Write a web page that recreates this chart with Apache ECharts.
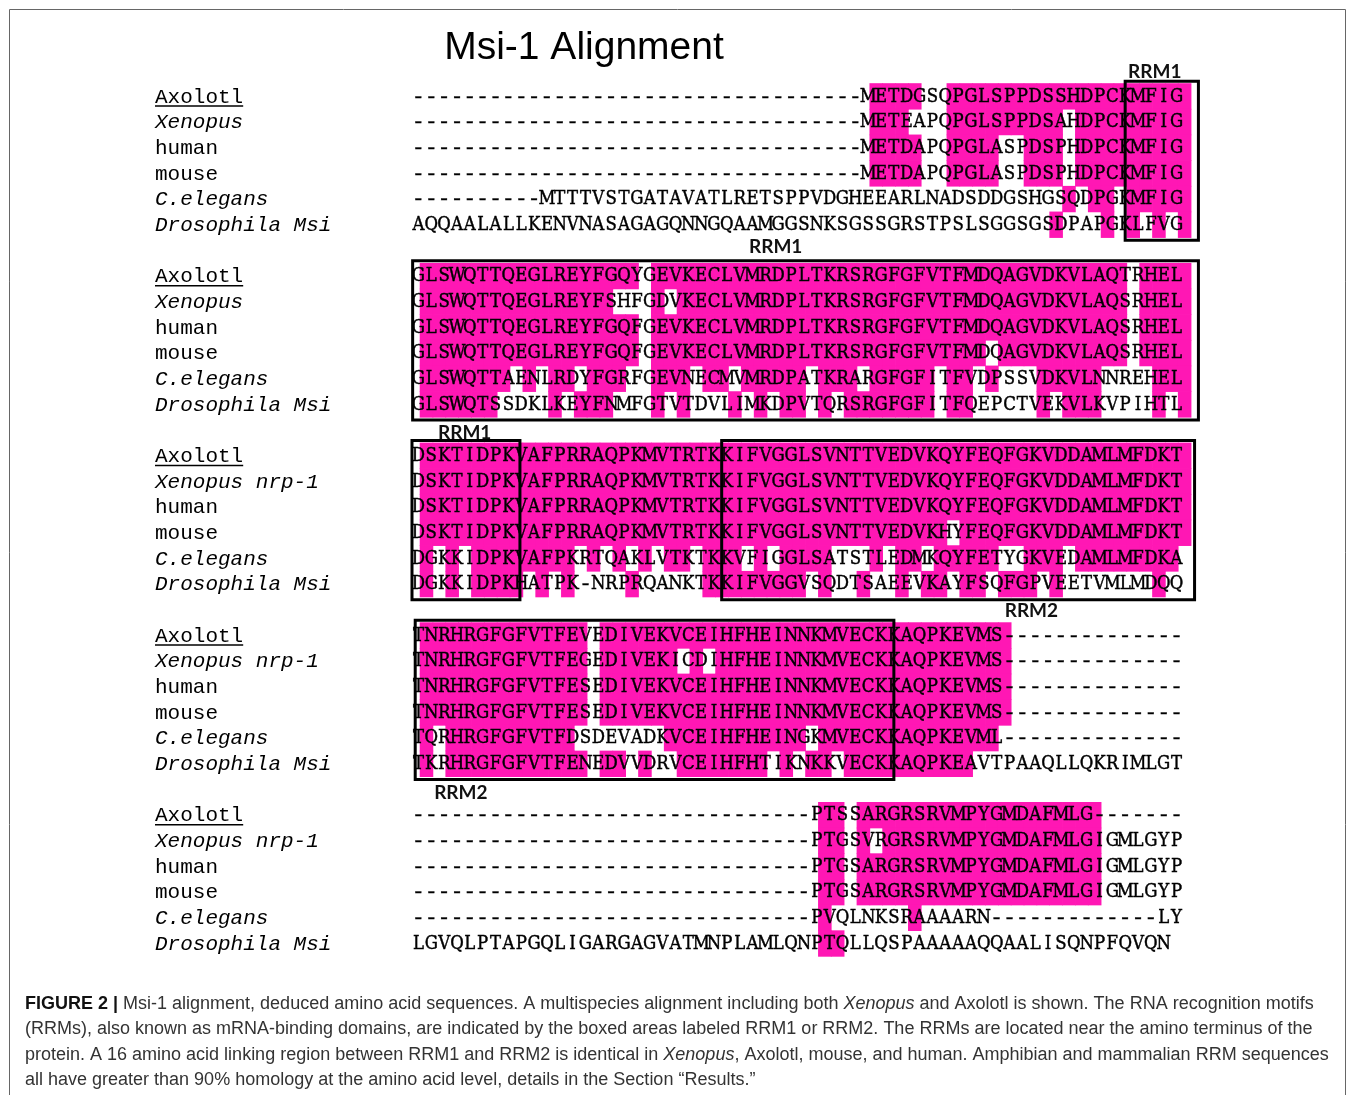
<!DOCTYPE html>
<html><head><meta charset="utf-8">
<script src="https://cdn.jsdelivr.net/npm/echarts@6/dist/echarts.min.js"></script>
<style>html,body{margin:0;padding:0;background:#fff;}#chart{width:1355px;height:1095px;}</style>
</head><body><div id="chart"></div>
<script>
// ---------------- DATA ----------------
const block1Labels = ['Axolotl','Xenopus','human','mouse','C.elegans','Drosophila Msi'];
const block2Labels = ['Axolotl','Xenopus','human','mouse','C.elegans','Drosophila Msi'];
const block3Labels = ['Axolotl','Xenopus nrp-1','human','mouse','C.elegans','Drosophila Msi'];
const block4Labels = ['Axolotl','Xenopus nrp-1','human','mouse','C.elegans','Drosophila Msi'];
const block5Labels = ['Axolotl','Xenopus nrp-1','human','mouse','C.elegans','Drosophila Msi'];

const block1Seqs = [
  '-'.repeat(35) + 'METDGSQPGLSPPDSSHDPCKMFIG',
  '-'.repeat(35) + 'METEAPQPGLSPPDSAHDPCKMFIG',
  '-'.repeat(35) + 'METDAPQPGLASPDSPHDPCKMFIG',
  '-'.repeat(35) + 'METDAPQPGLASPDSPHDPCKMFIG',
  '-'.repeat(10) + 'MTTTVSTGATAVATLRETSPPVDGHEEARLNADSDDGSHGSQDPGKMFIG',
  'AQQAALALLKENVNASAGAGQNNGQAAMGGSNKSGSSGRSTPSLSGGSGSDPAPGKLFVG'
];
const block2Seqs = [
  'GLSWQTTQEGLREYFGQYGEVKECLVMRDPLTKRSRGFGFVTFMDQAGVDKVLAQTRHEL',
  'GLSWQTTQEGLREYFSHFGDVKECLVMRDPLTKRSRGFGFVTFMDQAGVDKVLAQSRHEL',
  'GLSWQTTQEGLREYFGQFGEVKECLVMRDPLTKRSRGFGFVTFMDQAGVDKVLAQSRHEL',
  'GLSWQTTQEGLREYFGQFGEVKECLVMRDPLTKRSRGFGFVTFMDQAGVDKVLAQSRHEL',
  'GLSWQTTAENLRDYFGRFGEVNECMVMRDPATKRARGFGFITFVDPSSVDKVLNNREHEL',
  'GLSWQTSSDKLKEYFNMFGTVTDVLIMKDPVTQRSRGFGFITFQEPCTVEKVLKVPIHTL'
];
const block3Seqs = [
  'DSKTIDPKVAFPRRAQPKMVTRTKKIFVGGLSVNTTVEDVKQYFEQFGKVDDAMLMFDKT',
  'DSKTIDPKVAFPRRAQPKMVTRTKKIFVGGLSVNTTVEDVKQYFEQFGKVDDAMLMFDKT',
  'DSKTIDPKVAFPRRAQPKMVTRTKKIFVGGLSVNTTVEDVKQYFEQFGKVDDAMLMFDKT',
  'DSKTIDPKVAFPRRAQPKMVTRTKKIFVGGLSVNTTVEDVKHYFEQFGKVDDAMLMFDKT',
  'DGKKIDPKVAFPKRTQAKLVTKTKKVFIGGLSATSTLEDMKQYFETYGKVEDAMLMFDKA',
  'DGKKIDPKHATPK-NRPRQANKTKKIFVGGVSQDTSAEEVKAYFSQFGPVEETVMLMDQQ'
];
const block4Seqs = [
  'TNRHRGFGFVTFEVEDIVEKVCEIHFHEINNKMVECKKAQPKEVMS' + '-'.repeat(14),
  'TNRHRGFGFVTFEGEDIVEKICDIHFHEINNKMVECKKAQPKEVMS' + '-'.repeat(14),
  'TNRHRGFGFVTFESEDIVEKVCEIHFHEINNKMVECKKAQPKEVMS' + '-'.repeat(14),
  'TNRHRGFGFVTFESEDIVEKVCEIHFHEINNKMVECKKAQPKEVMS' + '-'.repeat(14),
  'TQRHRGFGFVTFDSDEVADKVCEIHFHEINGKMVECKKAQPKEVML' + '-'.repeat(14),
  'TKRHRGFGFVTFENEDVVDRVCEIHFHTIKNKKVECKKAQPKEAVTPAAQLLQKRIMLGT'
];
const block5Seqs = [
  '-'.repeat(31) + 'PTSSARGRSRVMPYGMDAFMLG' + '-'.repeat(7),
  '-'.repeat(31) + 'PTGSVRGRSRVMPYGMDAFMLGIGMLGYP',
  '-'.repeat(31) + 'PTGSARGRSRVMPYGMDAFMLGIGMLGYP',
  '-'.repeat(31) + 'PTGSARGRSRVMPYGMDAFMLGIGMLGYP',
  '-'.repeat(31) + 'PVQLNKSRAAAARN' + '-'.repeat(13) + 'LY',
  'LGVQLPTAPGQLIGARGAGVATMNPLAMLQNPTQLLQSPAAAAAQQAALISQNPFQVQN'
];

// shading masks ('#' = shaded residue)
const block1Shade = [
  '.......... .......... .......... .....####. .######### ##########',
  '.......... .......... .......... .....###.. .######### .#########',
  '.......... .......... .......... .....####. .####..### .#########',
  '.......... .......... .......... .....####. .####..### .#########',
  '.......... .......... .......... .......... .......... #.##.#####',
  '.......... .......... .......... .......... .........# ...#.#.#.#'
];
const block2Shade = [
  '########## #######.## ########## ########## ########## #####.####',
  '########## #####...#. ########## ########## ########## #####.####',
  '########## #######.## ########## ########## ########## #####.####',
  '########## #######.## ########## ########## ####.##### #####.####',
  '#######.#. ##.###..## #.##.##### .###.##### .##.#...## ###....###',
  '######.... #.###...#. #...#.#.## .#.####### .##.....#. ###....#.#'
];
const block3Shade = [
  '########## ########## ########## ########## ########## ##########',
  '########## ########## ########## ########## ########## ##########',
  '########## ########## ########## ########## ########## ##########',
  '########## ########## ########## ########## #.######## ##########',
  '#.#.###### ##.#.#.#.# #.###.#.## ##...#.##. #####..### .########.',
  '#.#.####.# .#....#... ..######## .#..#..#.# #.##.###.# .......#..'
];
const block4Shade = [
  '########## ###.###### ########## ########## ######.... ..........',
  '########## ###.###### .#.####### ########## ######.... ..........',
  '########## ###.###### ########## ########## ######.... ..........',
  '########## ###.###### ########## ########## ######.... ..........',
  '#.######## ##.......# ########## .######### #####..... ..........',
  '#.######## ###.##.#.. #######.#. ##.####### ###....... ..........'
];
const block5Shade = [
  '.......... .......... .......... .##.###### ########## ###.......',
  '.......... .......... .......... .##.#.#### ########## ###.......',
  '.......... .......... .......... .##.###### ########## ###.......',
  '.......... .......... .......... .##.###### ########## ###.......',
  '.......... .......... .......... .#......#. .......... ..........',
  '.......... .......... .......... .##....... .......... ..........'
];

// RRM boxes: block index, column range (in residue columns)
const rrmBoxBlocks = [0, 1, 2, 2, 3];
const rrmBoxFrom   = [55.5, 0.05, 0.0, 24.1, 0.25];
const rrmBoxTo     = [61.2, 61.2, 8.4, 60.9, 37.5];
// RRM labels: text, column, row position
const rrmLabelText = ['RRM1', 'RRM1', 'RRM1', 'RRM2', 'RRM2'];
const rrmLabelCol  = [57.8, 28.3, 4.1, 48.2, 3.8];
const rrmLabelRow  = [-0.45, 6.38, 13.63, 20.56, 27.65];

const titleText = 'Msi-1 Alignment';
const captionLines = [
  '{b|FIGURE 2 |} Msi-1 alignment, deduced amino acid sequences. A multispecies alignment including both {i|Xenopus} and Axolotl is shown. The RNA recognition motifs',
  '(RRMs), also known as mRNA-binding domains, are indicated by the boxed areas labeled RRM1 or RRM2. The RRMs are located near the amino terminus of the',
  'protein. A 16 amino acid linking region between RRM1 and RRM2 is identical in {i|Xenopus}, Axolotl, mouse, and human. Amphibian and mammalian RRM sequences',
  'all have greater than 90% homology at the amino acid level, details in the Section \u201cResults.\u201d'
];

// ---------------- BUILD ----------------
const blocks = [
  {seqs: block1Seqs, shade: block1Shade, labels: block1Labels},
  {seqs: block2Seqs, shade: block2Shade, labels: block2Labels},
  {seqs: block3Seqs, shade: block3Shade, labels: block3Labels},
  {seqs: block4Seqs, shade: block4Shade, labels: block4Labels},
  {seqs: block5Seqs, shade: block5Shade, labels: block5Labels}
];
const NCOL = 60, STRIDE = 7, NROW = 34;
const letterData = [], shadeData = [], labelData = [];
blocks.forEach((b, bi) => {
  b.seqs.forEach((s, si) => {
    const r = bi * STRIDE + si;
    for (let c = 0; c < s.length; c++) letterData.push([c, r, s[c]]);
    const m = b.shade[si].replace(/ /g, '');
    for (let c = 0; c < m.length; c++) if (m[c] === '#') shadeData.push([c, r]);
    labelData.push([0, r, b.labels[si]]);
  });
});
const boxData = rrmBoxBlocks.map((bi, i) => [rrmBoxFrom[i], bi * STRIDE, rrmBoxTo[i], bi * STRIDE + 6]);
const rrmLabelData = rrmLabelText.map((t, i) => [rrmLabelCol[i], rrmLabelRow[i], t]);

const PINK = '#ff17b4';
const SHIFT = 0.6;
const SEQ_FONT = '18px "DejaVu Serif", "Liberation Serif", serif';
const DASH_FONT = '21px "Liberation Mono", "Courier New", monospace';
const LAB_FONT = '21px "Liberation Mono", "Courier New", monospace';
const LAB_ITAL = 'italic 21px "Liberation Mono", "Courier New", monospace';
const italicNames = ['Xenopus', 'Xenopus nrp-1', 'C.elegans', 'Drosophila Msi'];
const CAP_FAMILY = '"Liberation Sans", Arial, sans-serif';
const CAP_SIZE = 18;

const chart = echarts.init(document.getElementById('chart'), null, {renderer: 'canvas'});
chart.setOption({
  animation: false,
  backgroundColor: '#fff',
  grid: {left: 412, width: 771, top: 83.2, height: 872.8},
  xAxis: {type: 'value', min: 0, max: NCOL, show: false},
  yAxis: {type: 'value', min: 0, max: NROW, inverse: true, show: false},
  graphic: [
    {type: 'rect', shape: {x: 9.5, y: 9.5, width: 1336, height: 1100}, style: {fill: 'none', stroke: '#666', lineWidth: 1}, silent: true},
    {type: 'text', style: {text: titleText, x: 584, y: 48, align: 'center', verticalAlign: 'middle', font: '39px "Liberation Sans", Arial, sans-serif', fill: '#000'}}
  ].concat(captionLines.map((t, i) => ({
    type: 'text',
    style: {
      text: t, x: 25, y: 1004 + i * 25.4, verticalAlign: 'middle', align: 'left',
      fontSize: CAP_SIZE, fontFamily: CAP_FAMILY, fill: '#333',
      rich: {
        b: {fontSize: CAP_SIZE, fontFamily: CAP_FAMILY, fontWeight: 'bold', fill: '#111'},
        i: {fontSize: CAP_SIZE, fontFamily: CAP_FAMILY, fontStyle: 'italic', fill: '#333'}
      }
    }
  }))),
  series: [
    {
      type: 'custom', name: 'shade', clip: false, z: 1,
      data: shadeData,
      encode: {x: 0, y: 1},
      renderItem: (params, api) => {
        const c = api.value(0), r = api.value(1);
        const p0 = api.coord([c + SHIFT, r]);
        const p1 = api.coord([c + 1 + SHIFT, r + 1]);
        return {type: 'rect', shape: {x: p0[0], y: p0[1], width: p1[0] - p0[0] + 0.7, height: p1[1] - p0[1] + 0.7}, style: {fill: PINK}};
      }
    },
    {
      type: 'custom', name: 'residues', clip: false, z: 3,
      data: letterData.map(d => [d[0], d[1]]),
      encode: {x: 0, y: 1},
      renderItem: (params, api) => {
        const d = letterData[params.dataIndex];
        const p = api.coord([d[0] + 0.5, d[1] + 0.5]);
        if (d[2] === '-') {
          return {type: 'text', x: p[0], y: p[1] + 1, style: {text: '-', x: 0, y: 0, align: 'center', verticalAlign: 'middle', font: DASH_FONT, fill: '#000', stroke: '#000', lineWidth: 0.4}};
        }
        return {type: 'text', x: p[0], y: p[1] + 1, scaleX: 0.92, style: {text: d[2], x: 0, y: 0, align: 'center', verticalAlign: 'middle', font: SEQ_FONT, fill: '#000', stroke: '#000', lineWidth: 0.45}};
      }
    },
    {
      type: 'custom', name: 'species', clip: false, z: 3,
      data: labelData.map(d => [d[0], d[1]]),
      encode: {x: 0, y: 1},
      renderItem: (params, api) => {
        const d = labelData[params.dataIndex];
        const p = api.coord([0, d[1] + 0.5]);
        const x = p[0] - 257;
        const name = d[2];
        const children = [{type: 'text', style: {text: name, x: x, y: p[1] + 1, align: 'left', verticalAlign: 'middle', font: italicNames.indexOf(name) >= 0 ? LAB_ITAL : LAB_FONT, fill: '#000'}}];
        if (name === 'Axolotl') {
          children.push({type: 'line', shape: {x1: x, y1: p[1] + 10, x2: x + name.length * 12.6, y2: p[1] + 10}, style: {stroke: '#000', lineWidth: 1.5}});
        }
        return {type: 'group', children: children};
      }
    },
    {
      type: 'custom', name: 'rrmLabels', clip: false, z: 4,
      data: rrmLabelData.map(d => [d[0], d[1]]),
      encode: {x: 0, y: 1},
      renderItem: (params, api) => {
        const d = rrmLabelData[params.dataIndex];
        const p = api.coord([d[0], d[1]]);
        return {type: 'text', style: {text: d[2], x: p[0], y: p[1], align: 'center', verticalAlign: 'middle', font: 'bold 19px Lato, "Liberation Sans", sans-serif', fill: '#111'}};
      }
    },
    {
      type: 'custom', name: 'rrmBoxes', clip: false, z: 5,
      data: boxData,
      encode: {x: [0, 2], y: [1, 3]},
      renderItem: (params, api) => {
        const p0 = api.coord([api.value(0), api.value(1) - 0.08]);
        const p1 = api.coord([api.value(2), api.value(3) + 0.12]);
        return {type: 'rect', shape: {x: p0[0], y: p0[1], width: p1[0] - p0[0], height: p1[1] - p0[1]}, style: {fill: 'none', stroke: '#000', lineWidth: 3}};
      }
    }
  ]
});
</script></body></html>
